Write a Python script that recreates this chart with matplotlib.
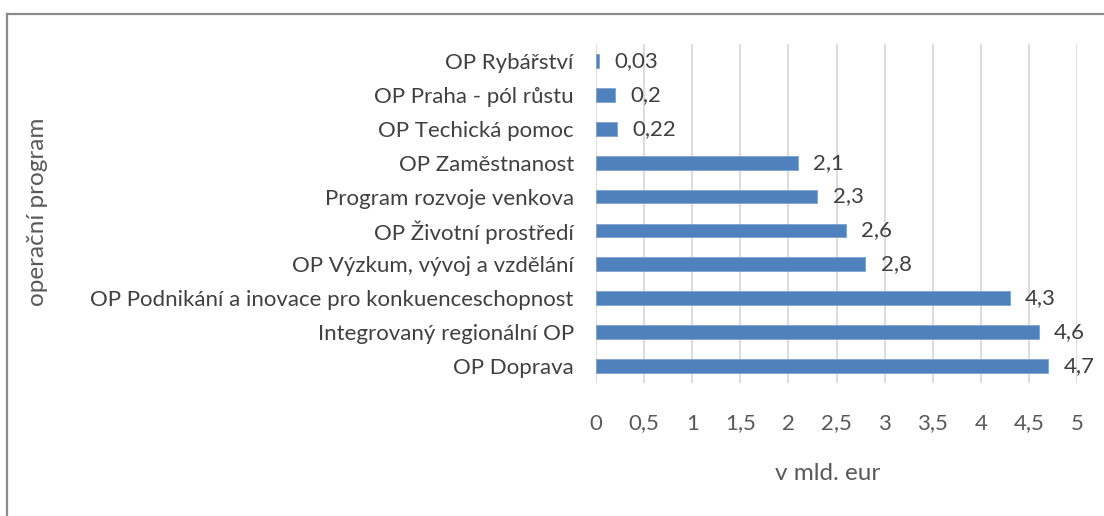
import matplotlib
matplotlib.use("Agg")
import matplotlib.pyplot as plt
from matplotlib.lines import Line2D

categories = [
    "OP Rybářství",
    "OP Praha - pól růstu",
    "OP Techická pomoc",
    "OP Zaměstnanost",
    "Program rozvoje venkova",
    "OP Životní prostředí",
    "OP Výzkum, vývoj a vzdělání",
    "OP Podnikání a inovace pro konkuenceschopnost",
    "Integrovaný regionální OP",
    "OP Doprava",
]
values = [0.03, 0.2, 0.22, 2.1, 2.3, 2.6, 2.8, 4.3, 4.6, 4.7]
xticks = [0, 0.5, 1, 1.5, 2, 2.5, 3, 3.5, 4, 4.5, 5]
xlabel = "v mld. eur"
ylabel = "operační program"

plt.rcParams['font.family'] = ['Lato', 'DejaVu Sans']

W, H = 1104, 516
fig = plt.figure(figsize=(W / 100, H / 100), dpi=100)
ax = fig.add_axes([596 / W, 1 - 383 / H, (1077 - 596) / W, (383 - 44) / H])

ypos = list(range(len(categories)))
ax.barh(ypos, values, height=0.41, color="#4F81BD", edgecolor="#7FA3D0", linewidth=0.6, zorder=3)

ax.set_xlim(0, 5)
ax.set_ylim(len(categories) - 0.5, -0.5)
ax.set_xticks(xticks)
ax.set_xticklabels([f"{t:g}".replace('.', ',') for t in xticks])
ax.set_yticks(ypos)
ax.set_yticklabels(categories)

for s in ax.spines.values():
    s.set_visible(False)
ax.tick_params(axis='both', length=0, labelsize=16, colors="#595959")
ax.tick_params(axis='x', pad=22)
ax.tick_params(axis='y', pad=16)
for lbl in ax.get_yticklabels():
    lbl.set_color("#404040")
ax.grid(axis='x', color="#D9D9D9", linewidth=1.3, zorder=0)
ax.set_axisbelow(True)

for y, v in zip(ypos, values):
    ax.annotate(f"{v:g}".replace('.', ','), xy=(v, y), xytext=(11, 0),
                textcoords="offset points", va="center", ha="left",
                fontsize=16, color="#404040")

ax.set_xlabel(xlabel, fontsize=17.5, color="#595959")
ax.xaxis.set_label_coords(828 / W, 1 - 473 / H, transform=fig.transFigure)
ax.xaxis.label.set_va("center")
ax.set_ylabel(ylabel, fontsize=17.5, color="#595959")
ax.yaxis.set_label_coords(38 / W, 1 - 212 / H, transform=fig.transFigure)
ax.yaxis.label.set_va("center")

# outer frame (top and left only)
fig.add_artist(Line2D([7 / W, 1], [1 - 14 / H, 1 - 14 / H], color="#8C8C8C", linewidth=1.6, transform=fig.transFigure))
fig.add_artist(Line2D([7 / W, 7 / W], [0, 1 - 14 / H], color="#8C8C8C", linewidth=1.6, transform=fig.transFigure))

fig.savefig("out.png", dpi=100, facecolor="white")
